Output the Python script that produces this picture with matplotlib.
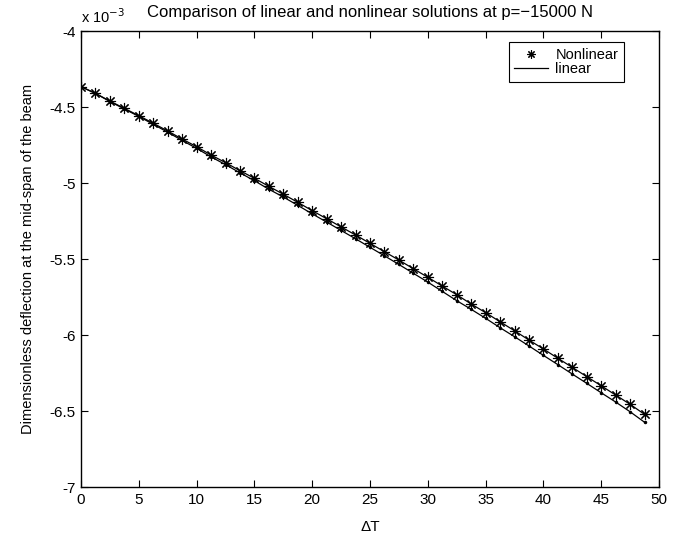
import matplotlib
matplotlib.use("Agg")
import matplotlib.pyplot as plt
from matplotlib.lines import Line2D
import numpy as np

plt.rcParams['font.family'] = ['Liberation Sans', 'DejaVu Sans']

# Temperature change (x) values
delta_T = [0.0, 1.25, 2.5, 3.75, 5.0, 6.25, 7.5, 8.75, 10.0, 11.25,
           12.5, 13.75, 15.0, 16.25, 17.5, 18.75, 20.0, 21.25, 22.5, 23.75,
           25.0, 26.25, 27.5, 28.75, 30.0, 31.25, 32.5, 33.75, 35.0, 36.25,
           37.5, 38.75, 40.0, 41.25, 42.5, 43.75, 45.0, 46.25, 47.5, 48.75]

# Deflection values in units of 1e-3
nonlinear = [-4.366, -4.410, -4.461, -4.509, -4.557, -4.607, -4.658, -4.711, -4.761, -4.816,
             -4.866, -4.919, -4.969, -5.022, -5.074, -5.127, -5.182, -5.235, -5.289, -5.342,
             -5.397, -5.452, -5.507, -5.564, -5.620, -5.678, -5.735, -5.796, -5.853, -5.913,
             -5.972, -6.033, -6.092, -6.153, -6.213, -6.274, -6.334, -6.395, -6.456, -6.522]

linear = [-4.366, -4.411, -4.464, -4.513, -4.562, -4.614, -4.666, -4.720, -4.772, -4.828,
          -4.879, -4.933, -4.985, -5.041, -5.092, -5.147, -5.203, -5.257, -5.312, -5.367,
          -5.423, -5.479, -5.536, -5.594, -5.652, -5.713, -5.774, -5.831, -5.890, -5.952,
          -6.011, -6.072, -6.134, -6.195, -6.257, -6.318, -6.380, -6.441, -6.505, -6.574]

xticks = [0, 5, 10, 15, 20, 25, 30, 35, 40, 45, 50]
yticks = [-7, -6.5, -6, -5.5, -5, -4.5, -4]
ytick_labels = ['-7', '-6.5', '-6', '-5.5', '-5', '-4.5', '-4']

fig = plt.figure(figsize=(6.8, 5.38), dpi=100)
ax = fig.add_axes([81/680, 1 - 487/538, (659-81)/680, (487-31)/538])

star = (8, 2, 0)
ax.plot(delta_T, nonlinear, color='black', linewidth=0.9, marker=star,
        markersize=8, markeredgewidth=0.8)
ax.plot(delta_T, linear, color='black', linewidth=0.9, marker='.',
        markersize=3)

ax.set_xlim(0, 50)
ax.set_ylim(-7, -4)
ax.set_xticks(xticks)
ax.set_xticklabels([str(t) for t in xticks])
ax.set_yticks(yticks)
ax.set_yticklabels(ytick_labels)
ax.tick_params(direction='in', top=True, right=True, labelsize=11,
               length=5, width=0.8, pad=4)
for s in ax.spines.values():
    s.set_linewidth(1.0)

ax.text(0.0, 1.012, r'x 10$^{-3}$', transform=ax.transAxes, fontsize=10.5,
        ha='left', va='bottom')
ax.set_title('Comparison of linear and nonlinear solutions at p=\u221215000 N',
             fontsize=12, pad=10)
ax.set_xlabel('\u0394T', fontsize=11, labelpad=10)
ax.set_ylabel('Dimensionless deflection at the mid-span of the beam',
              fontsize=10.5, labelpad=10)

handles = [Line2D([], [], color='black', linestyle='none', marker=star,
                  markersize=6, markeredgewidth=0.8),
           Line2D([], [], color='black', linewidth=0.9)]
leg = ax.legend(handles, ['Nonlinear', 'linear'], loc='upper right',
                fancybox=False, framealpha=1, edgecolor='black',
                labelspacing=0.0, handlelength=2.3, handletextpad=0.5,
                borderpad=0.4, fontsize=10.5, borderaxespad=0)
leg.set_bbox_to_anchor((624/680, 1 - 42/538), transform=fig.transFigure)
leg.get_frame().set_linewidth(0.8)

fig.savefig('out.png', dpi=100)
